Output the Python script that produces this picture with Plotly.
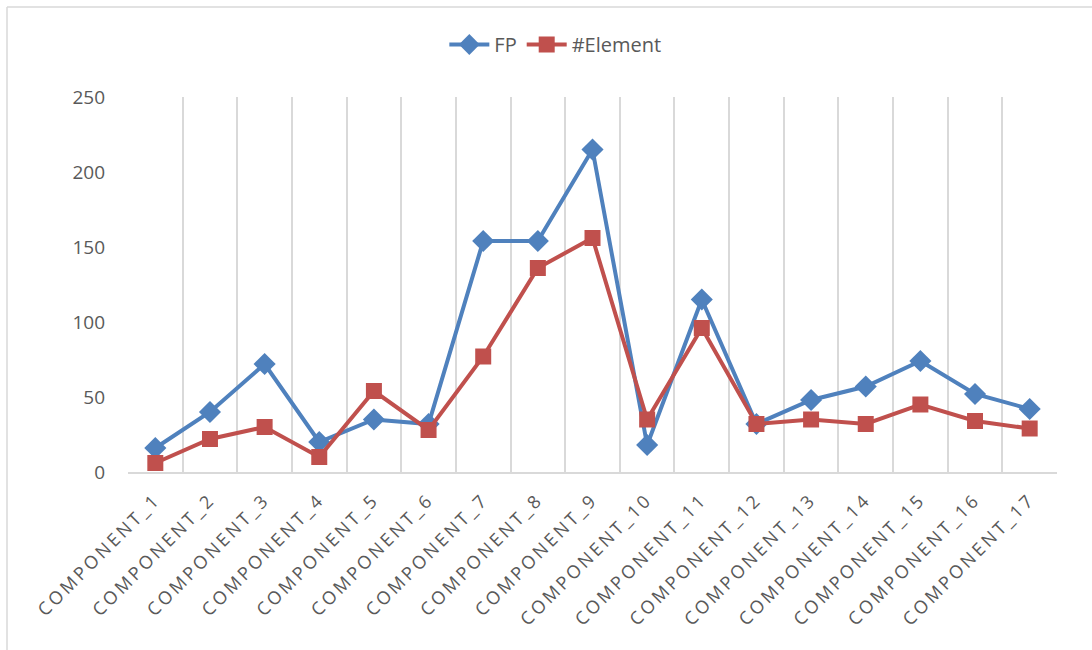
import plotly.graph_objects as go

categories = [f"COMPONENT_{i}" for i in range(1, 18)]
fp_values = [16, 40, 72, 20, 35, 32, 154, 154, 215, 18, 115, 32, 48, 57, 74, 52, 42]
element_values = [6, 22, 30, 10, 54, 28, 77, 136, 156, 35, 96, 32, 35, 32, 45, 34, 29]
y_ticks = [0, 50, 100, 150, 200, 250]

BLUE = "#4F81BD"
RED = "#C0504D"
TEXT = "#595959"
GRID = "#D9D9D9"
FONT = "Open Sans, Liberation Sans, sans-serif"

fig = go.Figure()
fig.add_trace(go.Scatter(
    x=categories, y=fp_values, name="FP", mode="lines+markers",
    line=dict(color=BLUE, width=4),
    marker=dict(symbol="diamond", size=17, color=BLUE),
))
fig.add_trace(go.Scatter(
    x=categories, y=element_values, name="#Element", mode="lines+markers",
    line=dict(color=RED, width=4),
    marker=dict(symbol="square", size=16, color=RED),
))

W, H = 1092, 650
left, right, top, bottom = 128, 35, 97, 178
pw = W - left - right
ph = H - top - bottom

fig.update_layout(
    width=W, height=H,
    margin=dict(l=left, r=right, t=top, b=bottom, pad=0),
    paper_bgcolor="white", plot_bgcolor="white",
    font=dict(family=FONT, color=TEXT),
    showlegend=True,
    legend=dict(
        orientation="h", x=0.46, xanchor="center", y=1.14, yanchor="middle",
        font=dict(size=20, color=TEXT), itemwidth=40,
    ),
    xaxis=dict(
        type="category", tickson="boundaries", range=[-0.5, 16.5],
        showgrid=True, gridcolor=GRID, gridwidth=1.5,
        showline=True, linecolor=GRID, linewidth=2,
        ticks="", tickangle=-45, tickfont=dict(size=18, color=TEXT),
        ticklabelstandoff=8, zeroline=False,
    ),
    yaxis=dict(
        range=[0, 250], tickvals=y_ticks, showgrid=False, zeroline=False,
        showline=False, ticks="", tickfont=dict(size=19, color=TEXT),
        ticklabelstandoff=22,
    ),
    shapes=[
        dict(type="line", xref="paper", yref="paper",
             x0=(7 - left) / pw, x1=(W - left) / pw,
             y0=(H - 7 - bottom) / ph, y1=(H - 7 - bottom) / ph,
             line=dict(color=GRID, width=1.5)),
        dict(type="line", xref="paper", yref="paper",
             x0=(7 - left) / pw, x1=(7 - left) / pw,
             y0=(H - 7 - bottom) / ph, y1=-bottom / ph,
             line=dict(color=GRID, width=1.5)),
    ],
)

# widen the letter spacing of the category labels
spacing_js = """
var gd = document.getElementById('{plot_id}');
gd.querySelectorAll('.xtick text').forEach(function (t) {
    t.style.letterSpacing = '3px';
});
"""

fig.write_html("out.html", post_script=spacing_js)
